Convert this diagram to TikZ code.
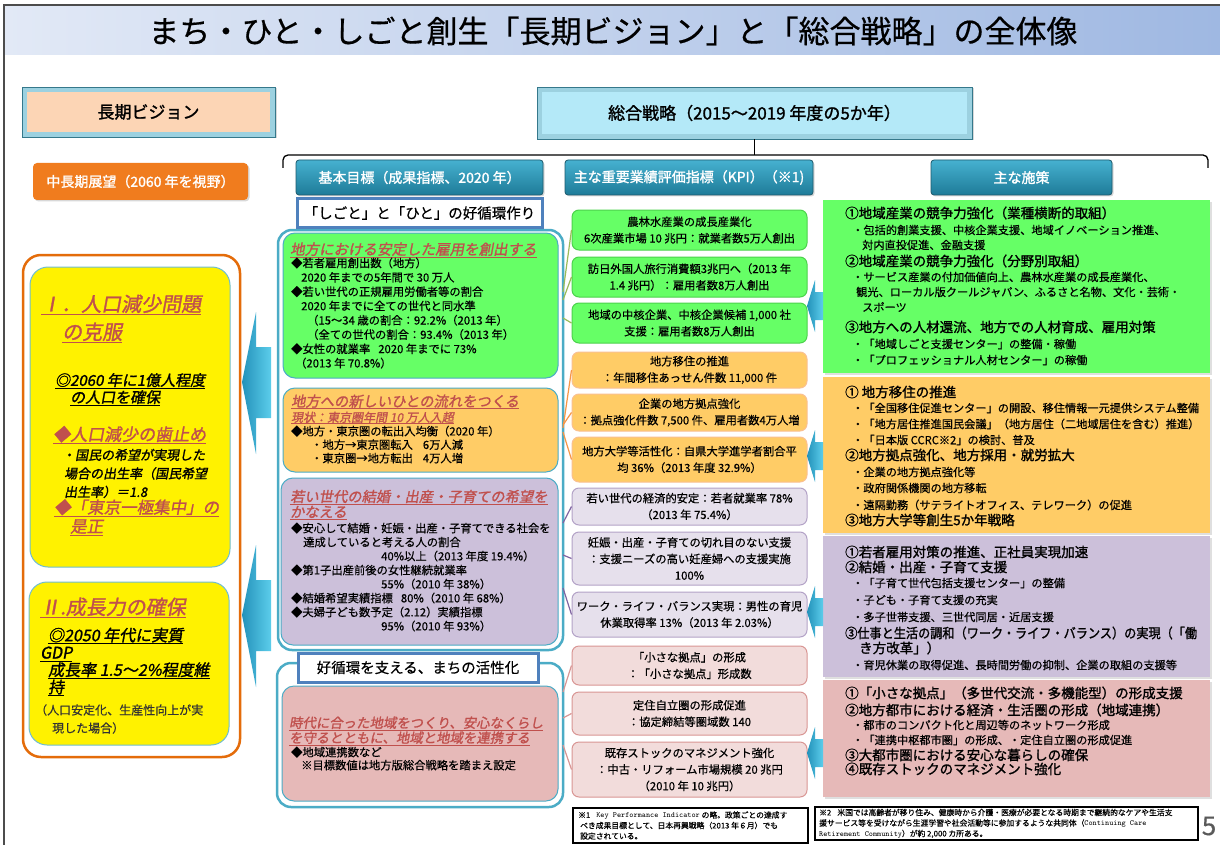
\documentclass[tikz,border=0pt]{standalone}
\usepackage{fontspec}
\usepackage{graphicx}
\setmainfont{Noto Sans CJK JP}[FakeBold=0.5]
\newfontfamily\jpb{Noto Sans CJK JP}[FakeBold=1.4]
\newfontfamily\jpi{Noto Sans CJK JP}[FakeSlant=0.18]
\newfontfamily\jpbi{Noto Sans CJK JP}[FakeSlant=0.18,FakeBold=1.4]
\usetikzlibrary{fit,shadows}
\newcommand\ul[1]{\setbox0\hbox{#1}\leavevmode\rlap{\rule[-0.2em]{\wd0}{0.07em}}\box0}
\newcommand\fsz[2]{\fontsize{#1}{#2}\selectfont}
\definecolor{teal1}{HTML}{4BACC6}
\definecolor{hdrT}{HTML}{46B1D0}
\definecolor{hdrB}{HTML}{1E7B98}
\definecolor{hdrD}{HTML}{1D5A6D}
\definecolor{orgL}{HTML}{E46C0A}
\definecolor{orgH}{HTML}{F07C1E}
\definecolor{peach}{HTML}{FCD5B5}
\definecolor{cyanM}{HTML}{B4E9F8}
\definecolor{gF}{HTML}{66FF66}
\definecolor{oF}{HTML}{FFCC66}
\definecolor{pF}{HTML}{CCC0DA}
\definecolor{rF}{HTML}{E6B9B8}
\definecolor{kpF}{HTML}{E6E0EC}
\definecolor{krF}{HTML}{F2DCDB}
\definecolor{gB}{HTML}{4CD24C}
\definecolor{oB}{HTML}{FAC090}
\definecolor{pB}{HTML}{B3A2C7}
\definecolor{rB}{HTML}{D99694}
\definecolor{hred}{HTML}{C0504D}
\definecolor{lblB}{HTML}{4F81BD}
\definecolor{gLn}{HTML}{9BBB59}
\definecolor{oLn}{HTML}{F79646}
\definecolor{pLn}{HTML}{8064A2}
\definecolor{rLn}{HTML}{D99694}
\definecolor{arrL}{HTML}{5CCDEB}
\definecolor{arrD}{HTML}{2392BA}
\definecolor{titL}{HTML}{E2E9F6}
\definecolor{titR}{HTML}{9FB8E2}
\newcommand\PH[3]{\node[phd] (#1) at (845,#2) {#3};}
\newcommand\PS[4]{\node[psb] (#1) at (#2,#3) {#4};}
\newcommand\BigArrow[1]{\shade[left color=arrD,right color=arrL] (242,#1) -- (256,#1-70) -- (256,#1-35) -- (271,#1-35) -- (271,#1+36) -- (256,#1+36) -- (256,#1+72) -- cycle;}
\newcommand\SmArrow[1]{\shade[left color=arrD,right color=arrL] (807,#1) -- (815,#1-26) -- (815,#1-14) -- (823,#1-14) -- (823,#1+14) -- (815,#1+14) -- (815,#1+26) -- cycle;}
\begin{document}
\begin{tikzpicture}[x=1pt,y=-1pt,
  txt/.style={inner sep=0pt, anchor=west, align=left},
  ctxt/.style={inner sep=0pt, align=center},
  shd/.style={drop shadow={opacity=0.3,shadow xshift=1.5pt,shadow yshift=-1.5pt}},
  hdr/.style={draw=hdrD, line width=0.8pt, top color=hdrT, bottom color=hdrB, rounded corners=3pt, inner sep=0pt, shd},
  hdrtxt/.style={ctxt, text=white, font=\jpb\fsz{14}{14}},
  cont/.style={draw=teal1, line width=2.5pt, rounded corners=14pt, inner sep=0pt},
  lbl/.style={draw=lblB, line width=3pt, fill=white, inner sep=0pt},
  mbox/.style={draw=teal1, line width=1pt, rounded corners=12pt, inner sep=0pt},
  ybox/.style={fill=yellow, draw=teal1!80, line width=1pt, rounded corners=18pt, inner sep=0pt},
  kbox/.style={line width=1pt, rounded corners=7pt, inner sep=0pt},
  kg/.style={kbox, fill=gF, draw=gB},
  ko/.style={kbox, fill=oF, draw=oB},
  kp/.style={kbox, fill=kpF, draw=pB},
  kr/.style={kbox, fill=krF, draw=rB},
  ktxt/.style={ctxt, font=\fsz{11.3}{16.5}},
  pbox/.style={inner sep=0pt, drop shadow={opacity=0.25,shadow xshift=2pt,shadow yshift=-2pt}},
  phd/.style={txt, font=\jpb\fsz{13.5}{13.5}},
  psb/.style={txt, font=\fsz{11.2}{11.2}},
  conn/.style={line width=1.2pt},
  redh/.style={txt, text=hred}
]
\useasboundingbox (0,0) rectangle (1220,845);
\fill[white] (0,0) rectangle (1220,845);
% title
\shade[left color=titL,right color=titR] (4,5) rectangle (1220,55);
\draw[black!70,line width=1.2pt] (4,845) -- (4,5) -- (1220,5);
\node[font=\fsz{31}{31}] (title) at (613,31) {まち・ひと・しごと創生「長期ビジョン」と「総合戦略」の全体像};

% top boxes
\node[fit={(22,87) (275,137)}, inner sep=0pt, fill=teal1!55, draw=teal1!70!black, line width=0.8pt, shd] (lvo) {};
\node[fit={(27,92) (270,132)}, inner sep=0pt, fill=peach] (lv) {};
\node[font=\jpb\fsz{17}{17}] (lvt) at (lv.center) {長期ビジョン};
\node[fit={(537,87) (972,139)}, inner sep=0pt, fill=teal1!55, draw=teal1!70!black, line width=0.8pt, shd] (zso) {};
\node[fit={(542,92) (967,134)}, inner sep=0pt, fill=cyanM] (zs) {};
\node[font=\jpb\fsz{17}{17}] (zst) at (zs.center) {総合戦略（2015～2019 年度の5か年）};

% bracket
\coordinate (brk) at (0,155);
\coordinate (brL) at (283,168);
\coordinate (brR) at (1208,168);
\draw[line width=1.3pt] (zso.south) -- (zso.south |- brk);
\draw[line width=1.3pt, rounded corners=5pt] (brL) -- (283,155) -- (1208,155) -- (brR);

% headers
\node[fit={(33,163) (248,200)}, inner sep=0pt, fill=orgH, rounded corners=4pt, shd] (h1) {};
\node[hdrtxt] (h1t) at (h1.center) {中長期展望（2060 年を視野）};
\node[hdr, fit={(296,160) (543,195)}] (h2) {};
\node[hdrtxt] (h2t) at (h2.center) {基本目標（成果指標、2020 年）};
\node[hdr, fit={(565,160) (813,195)}] (h3) {};
\node[hdrtxt] (h3t) at (h3.center) {主な重要業績評価指標（KPI）（※1)};
\node[hdr, fit={(931,160) (1112,195)}] (h4) {};
\node[hdrtxt] (h4t) at (h4.center) {主な施策};

% left column
\node[fit={(23,255) (240,757)}, inner sep=0pt, draw=orgL, line width=2.5pt, rounded corners=18pt, fill=white] (lc) {};
\node[ybox, fit={(30,267) (230,567)}] (y1) {};
\node[ybox, fit={(29,582) (229,745)}] (y2) {};
\node[redh, font=\jpbi\fsz{20}{28}] (y1h) at (41,319) {\ul{Ⅰ．人口減少問題}\\\hspace*{21pt}\ul{の克服}};
\node[txt, font=\jpbi\fsz{15}{17}] (y1a) at (55,389.5) {\ul{◎2060 年に1億人程度}\\\hspace*{15pt}\ul{の人口を確保}};
\node[redh, font=\jpbi\fsz{17}{17}] (y1b) at (53,435) {\ul{◆人口減少の歯止め}};
\node[txt, font=\jpbi\fsz{13}{18.5}] (y1c) at (62,473.5) {・国民の希望が実現した\\\hspace*{2pt}場合の出生率（国民希望\\\hspace*{2pt}出生率）＝1.8};
\node[redh, font=\jpbi\fsz{16.5}{19}] (y1d) at (54,517.5) {\ul{◆「東京一極集中」の}\\\hspace*{16pt}\ul{是正}};
\node[redh, font=\jpbi\fsz{20}{20}] (y2h) at (40,608) {\ul{Ⅱ.成長力の確保}};
\node[txt, font=\jpbi\fsz{16}{17.3}] (y2a) at (40,662) {\hspace*{8pt}\ul{◎2050 年代に実質}\\\ul{GDP}\\\hspace*{8pt}\ul{成長率 1.5～2\%程度維}\\\hspace*{8pt}\ul{持}};
\node[txt, font=\fsz{12}{18}, text=black!80] (y2b) at (35,719) {（人口安定化、生産性向上が実\\\hspace*{17pt}現した場合）};
\BigArrow{382}
\BigArrow{615}

% middle column
\node[cont, fit={(278,230) (563,650)}] (mc1) {};
\node[cont, fit={(277,663) (563,807)}] (mc2) {};
\node[lbl, fit={(297,199) (542,227)}] (lb1) {};
\node[font=\fsz{14.5}{14.5}] (lb1t) at (lb1.center) {「しごと」と「ひと」の好循環作り};
\node[mbox, fill=gF, fit={(283,233) (558,378)}] (mg) {};
\node[mbox, fill=oF, fit={(283,388) (558,472)}] (mo) {};
\node[mbox, fill=pF, fit={(281,478) (558,645)}] (mp) {};
\node[mbox, fill=rF, fit={(282,686) (558,801)}] (mr) {};
\node[lbl, fit={(298,653) (538,682)}] (lb2) {};
\node[font=\fsz{14.5}{14.5}] (lb2t) at (lb2.center) {好循環を支える、まちの活性化};

\node[redh, font=\jpbi\fsz{14.5}{14.5}] (gh) at (290,250) {\ul{地方における安定した雇用を創出する}};
\node[txt, font=\fsz{11.3}{14.3}] (gb) at (291,313) {◆若者雇用創出数（地方）\\\hspace*{10pt}2020 年までの5年間で 30 万人\\◆若い世代の正規雇用労働者等の割合\\\hspace*{10pt}2020 年までに全ての世代と同水準\\\hspace*{16pt}（15～34 歳の割合：92.2\%（2013 年）\\\hspace*{16pt}（全ての世代の割合：93.4\%（2013 年）\\◆女性の就業率\hspace{8pt}2020 年までに 73\%\\\hspace*{4pt}（2013 年 70.8\%）};
\node[redh, font=\jpbi\fsz{14.3}{14.3}] (oh) at (291,402) {\ul{地方への新しいひとの流れをつくる}};
\node[redh, font=\jpbi\fsz{12}{12}] (oh2) at (291,418) {\ul{現状：東京圏年間 10 万人入超}};
\node[txt, font=\fsz{11.3}{13.5}] (ob) at (291,444.5) {◆地方・東京圏の転出入均衡（2020 年）\\\hspace*{20pt}・地方→東京圏転入\hspace{10pt}6万人減\\\hspace*{20pt}・東京圏→地方転出\hspace{10pt}4万人増};
\node[redh, font=\jpbi\fsz{14.3}{14}] (ph) at (290,505) {\ul{若い世代の結婚・出産・子育ての希望を}\\\ul{かなえる}};
\node[txt, font=\fsz{11.3}{14}] (pb) at (291,577) {◆安心して結婚・妊娠・出産・子育てできる社会を\\\hspace*{12pt}達成していると考える人の割合\\\hspace*{90pt}40\%以上（2013 年度 19.4\%）\\◆第1子出産前後の女性継続就業率\\\hspace*{90pt}55\%（2010 年 38\%）\\◆結婚希望実績指標\hspace{8pt}80\%（2010 年 68\%）\\◆夫婦子ども数予定（2.12）実績指標\\\hspace*{90pt}95\%（2010 年 93\%）};
\node[redh, font=\jpbi\fsz{13.4}{12.5}] (rh) at (289,731) {\ul{時代に合った地域をつくり、安心なくらし}\\\ul{を守るとともに、地域と地域を連携する}};
\node[txt, font=\fsz{11.3}{13}] (rb) at (291,758.5) {◆地域連携数など\\\hspace*{10pt}※目標数値は地方版総合戦略を踏まえ設定};

% KPI column
\node[kg, fit={(572,210) (807,250)}] (k1) {};
\node[ktxt] (k1t) at (k1.center) {農林水産業の成長産業化\\6次産業市場 10 兆円：就業者数5万人創出};
\node[kg, fit={(572,257) (807,297)}] (k2) {};
\node[ktxt] (k2t) at (k2.center) {訪日外国人旅行消費額3兆円へ（2013 年\\1.4 兆円）：雇用者数8万人創出};
\node[kg, fit={(572,303) (807,343)}] (k3) {};
\node[ktxt] (k3t) at (k3.center) {地域の中核企業、中核企業候補 1,000 社\\支援：雇用者数8万人創出};
\node[ko, fit={(572,352) (807,388)}] (k4) {};
\node[ktxt] (k4t) at (k4.center) {地方移住の推進\\：年間移住あっせん件数 11,000 件};
\node[ko, fit={(572,394) (807,431)}] (k5) {};
\node[ktxt] (k5t) at (k5.center) {企業の地方拠点強化\\：拠点強化件数 7,500 件、雇用者数4万人増};
\node[ko, fit={(572,437) (807,482)}] (k6) {};
\node[ktxt] (k6t) at (k6.center) {地方大学等活性化：自県大学進学者割合平\\均 36\%（2013 年度 32.9\%）};
\node[kp, fit={(572,488) (807,525)}] (k7) {};
\node[ktxt] (k7t) at (k7.center) {若い世代の経済的安定：若者就業率 78\%\\（2013 年 75.4\%）};
\node[kp, fit={(572,532) (807,585)}] (k8) {};
\node[ktxt] (k8t) at (k8.center) {妊娠・出産・子育ての切れ目のない支援\\：支援ニーズの高い妊産婦への支援実施\\100\%};
\node[kp, fit={(572,592) (807,637)}] (k9) {};
\node[ktxt] (k9t) at (k9.center) {ワーク・ライフ・バランス実現：男性の育児\\休業取得率 13\%（2013 年 2.03\%）};
\node[kr, fit={(572,646) (807,685)}] (k10) {};
\node[ktxt] (k10t) at (k10.center) {「小さな拠点」の形成\\：「小さな拠点」形成数};
\node[kr, fit={(572,692) (807,735)}] (k11) {};
\node[ktxt] (k11t) at (k11.center) {定住自立圏の形成促進\\：協定締結等圏域数 140};
\node[kr, fit={(572,742) (807,797)}] (k12) {};
\node[ktxt] (k12t) at (k12.center) {既存ストックのマネジメント強化\\：中古・リフォーム市場規模 20 兆円\\（2010 年 10 兆円）};

% connectors
\coordinate (g1) at (563,292); \coordinate (g2) at (563,300); \coordinate (g3) at (563,318);
\coordinate (o1) at (563,428); \coordinate (o2) at (563,425); \coordinate (o3) at (563,432);
\coordinate (p1) at (563,523); \coordinate (p2) at (563,555); \coordinate (p3) at (563,588);
\coordinate (r1) at (563,692); \coordinate (r2) at (563,718); \coordinate (r3) at (563,745);
\draw[conn,gLn] (g1) -- (k1.west); \draw[conn,gLn] (g2) -- (k2.west); \draw[conn,gLn] (g3) -- (k3.west);
\draw[conn,oLn] (o1) -- (k4.west); \draw[conn,oLn] (o2) -- (k5.west); \draw[conn,oLn] (o3) -- (k6.west);
\draw[conn,pLn] (p1) -- (k7.west); \draw[conn,pLn] (p2) -- (k8.west); \draw[conn,pLn] (p3) -- (k9.west);
\draw[conn,rLn] (r1) -- (k10.west); \draw[conn,rLn] (r2) -- (k11.west); \draw[conn,rLn] (r3) -- (k12.west);

% policy column
\node[pbox, fill=gF, fit={(823,200) (1210,373)}] (pg) {};
\node[pbox, fill=oF, fit={(823,377) (1210,533)}] (po) {};
\node[pbox, fill=pF, fit={(823,536) (1210,677)}] (pp) {};
\node[pbox, fill=rF, fit={(823,680) (1210,797)}] (pr) {};
\SmArrow{306}
\SmArrow{456}
\SmArrow{612}
\SmArrow{753}

\PH{pg1}{213}{①地域産業の競争力強化（業種横断的取組）}
\PS{pg2}{852}{230}{・包括的創業支援、中核企業支援、地域イノベーション推進、}
\PS{pg3}{862}{245}{対内直投促進、金融支援}
\PH{pg4}{261}{②地域産業の競争力強化（分野別取組）}
\PS{pg5}{852}{277}{・サービス産業の付加価値向上、農林水産業の成長産業化、}
\PS{pg6}{856}{292}{観光、ローカル版クールジャパン、ふるさと名物、文化・芸術・}
\PS{pg7}{862}{307}{スポーツ}
\PH{pg8}{327}{③地方への人材還流、地方での人材育成、雇用対策}
\PS{pg9}{852}{344}{・「地域しごと支援センター」の整備・稼働}
\PS{pg10}{852}{360}{・「プロフェッショナル人材センター」の稼働}

\PH{po1}{392}{① 地方移住の推進}
\PS{po2}{852}{408}{・「全国移住促進センター」の開設、移住情報一元提供システム整備}
\PS{po3}{852}{424}{・「地方居住推進国民会議」（地方居住（二地域居住を含む）推進）}
\PS{po4}{852}{440}{・「日本版 CCRC※2」の検討、普及}
\PH{po5}{455}{②地方拠点強化、地方採用・就労拡大}
\PS{po6}{852}{472}{・企業の地方拠点強化等}
\PS{po7}{852}{488}{・政府関係機関の地方移転}
\PS{po8}{852}{505}{・遠隔勤務（サテライトオフィス、テレワーク）の促進}
\PH{po9}{520}{③地方大学等創生5か年戦略}

\PH{pp1}{552}{①若者雇用対策の推進、正社員実現加速}
\PH{pp2}{567}{②結婚・出産・子育て支援}
\PS{pp3}{852}{583}{・「子育て世代包括支援センター」の整備}
\PS{pp4}{852}{600}{・子ども・子育て支援の充実}
\PS{pp5}{852}{617}{・多子世帯支援、三世代同居・近居支援}
\PH{pp6}{633}{\scalebox{0.9}[1]{③仕事と生活の調和（ワーク・ライフ・バランス）の実現（「働}}
\PH{pp7}{648}{\hspace*{14pt}き方改革」）}
\PS{pp8}{852}{665}{・育児休業の取得促進、長時間労働の抑制、企業の取組の支援等}

\PH{pr1}{693}{①「小さな拠点」（多世代交流・多機能型）の形成支援}
\PH{pr2}{710}{②地方都市における経済・生活圏の形成（地域連携）}
\PS{pr3}{852}{725}{・都市のコンパクト化と周辺等のネットワーク形成}
\PS{pr4}{852}{740}{・「連携中枢都市圏」の形成、・定住自立圏の形成促進}
\PH{pr5}{755}{③大都市圏における安心な暮らしの確保}
\PH{pr6}{769}{④既存ストックのマネジメント強化}

% footnotes
\node[fit={(573,808) (808,843)}, inner sep=0pt, draw=black, line width=1.2pt, fill=white] (fn1) {};
\node[txt, font=\fsz{7.8}{10.5}] (fn1t) at (578,825.5) {※1\hspace{6pt}{\ttfamily Key Performance Indicator} の略。政策ごとの達成す\\\hspace*{2pt}べき成果目標として、日本再興戦略（2013 年６月）でも\\\hspace*{2pt}設定されている。};
\node[fit={(815,807) (1198,840)}, inner sep=0pt, draw=black, line width=1.2pt, fill=white] (fn2) {};
\node[txt, font=\fsz{7.8}{10.5}] (fn2t) at (819,823.5) {※2\hspace{6pt}米国では高齢者が移り住み、健康時から介護・医療が必要となる時期まで継続的なケアや生活支\\援サービス等を受けながら生涯学習や社会活動等に参加するような共同体（{\ttfamily Continuing Care}\\{\ttfamily Retirement Community}）が約 2,000 カ所ある。};
\node[font=\fsz{26}{26}, text=black!65] (pgn) at (1209,826) {5};
\end{tikzpicture}
\end{document}
